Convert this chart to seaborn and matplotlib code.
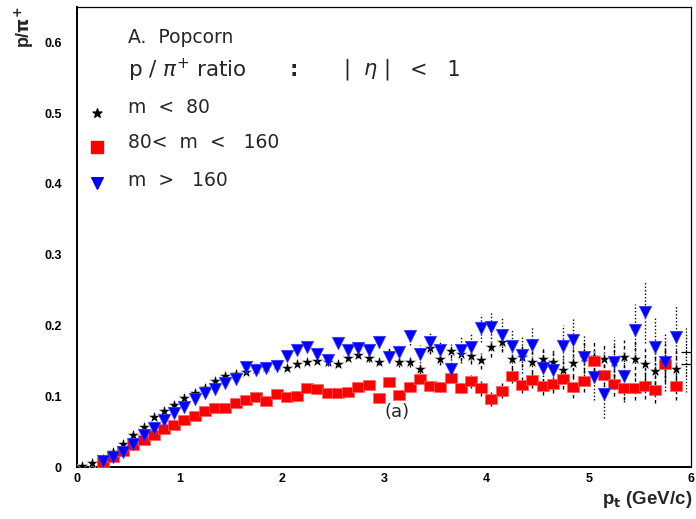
import numpy as np
import pandas as pd
import matplotlib
matplotlib.use("Agg")
import matplotlib.pyplot as plt
from matplotlib.ticker import MultipleLocator, FixedLocator, FixedFormatter
import seaborn as sns

# p/pi+ ratio vs pt, three multiplicity classes
pt_star = np.round(np.arange(0.05, 5.86, 0.1), 2)
ratio_star = [0.002, 0.006, 0.012, 0.021, 0.033, 0.045, 0.057, 0.070, 0.079, 0.088,
              0.098, 0.105, 0.112, 0.121, 0.129, 0.132, 0.134, 0.139, 0.142, 0.144,
              0.140, 0.145, 0.149, 0.150, 0.149, 0.145, 0.154, 0.158, 0.154, 0.149,
              0.161, 0.148, 0.149, 0.139, 0.168, 0.153, 0.164, 0.160, 0.157, 0.151,
              0.169, 0.177, 0.152, 0.156, 0.149, 0.153, 0.149, 0.137, 0.147, 0.156,
              0.156, 0.153, 0.149, 0.156, 0.153, 0.145, 0.135, 0.147, 0.138]
err_star = [0.001] * 20 + \
           [0.002, 0.002, 0.003, 0.003, 0.003, 0.004, 0.004, 0.004, 0.005, 0.005,
            0.006, 0.006, 0.007, 0.008, 0.008, 0.009, 0.010, 0.010, 0.011, 0.012,
            0.013, 0.014, 0.014, 0.015, 0.016, 0.017, 0.018, 0.019, 0.020, 0.020,
            0.021, 0.022, 0.023, 0.024, 0.025, 0.026, 0.027, 0.028, 0.030]

pt_sq = np.round(np.arange(0.25, 5.86, 0.1), 2)
ratio_sq = [0.007, 0.014, 0.022, 0.031, 0.038, 0.045, 0.053, 0.060, 0.066, 0.072,
            0.079, 0.084, 0.084, 0.091, 0.095, 0.099, 0.093, 0.103, 0.099, 0.100,
            0.112, 0.110, 0.105, 0.104, 0.106, 0.113, 0.116, 0.097, 0.120, 0.102,
            0.113, 0.124, 0.114, 0.113, 0.126, 0.112, 0.121, 0.111, 0.096, 0.108,
            0.129, 0.116, 0.123, 0.115, 0.117, 0.124, 0.113, 0.121, 0.150, 0.130,
            0.117, 0.112, 0.112, 0.115, 0.109, 0.145, 0.115]
err_sq = [0.001] * 18 + \
         [0.002, 0.002, 0.002, 0.003, 0.003, 0.003, 0.003, 0.004, 0.004, 0.004,
          0.005, 0.005, 0.006, 0.006, 0.007, 0.007, 0.008, 0.008, 0.009, 0.010,
          0.010, 0.011, 0.011, 0.012, 0.012, 0.013, 0.013, 0.014, 0.015, 0.015,
          0.016, 0.016, 0.017, 0.017, 0.018, 0.019, 0.019, 0.020, 0.021]

pt_tri = pt_sq
ratio_tri = [0.009, 0.014, 0.021, 0.033, 0.045, 0.055, 0.067, 0.077, 0.085, 0.096,
             0.105, 0.110, 0.119, 0.125, 0.142, 0.137, 0.140, 0.143, 0.157, 0.165,
             0.169, 0.160, 0.151, 0.175, 0.165, 0.168, 0.166, 0.176, 0.156, 0.163,
             0.185, 0.160, 0.176, 0.165, 0.138, 0.165, 0.170, 0.196, 0.198, 0.187,
             0.171, 0.158, 0.172, 0.140, 0.137, 0.171, 0.179, 0.156, 0.127, 0.103,
             0.149, 0.128, 0.193, 0.219, 0.170, 0.148, 0.184]
err_tri = [0.001] * 18 + \
          [0.003, 0.003, 0.004, 0.004, 0.005, 0.005, 0.006, 0.006, 0.007, 0.008,
           0.009, 0.010, 0.012, 0.013, 0.014, 0.015, 0.016, 0.018, 0.019, 0.020,
           0.022, 0.023, 0.024, 0.025, 0.026, 0.027, 0.028, 0.029, 0.030, 0.031,
           0.033, 0.034, 0.035, 0.036, 0.038, 0.044, 0.040, 0.041, 0.043]

# last bin: only error crosses visible
pt_last = [5.95, 5.95]
ratio_last = [0.163, 0.146]
err_last = [0.035, 0.04]

ytick_vals = [0, 0.1, 0.2, 0.3, 0.4, 0.5, 0.6]
ytick_labels = ["0", "0.1", "0.2", "0.3", "0.4", "0.5", "0.6"]
xtick_vals = [0, 1, 2, 3, 4, 5, 6]
xtick_labels = ["0", "1", "2", "3", "4", "5", "6"]

df_star = pd.DataFrame({"pt": pt_star, "ratio": ratio_star, "err": err_star})
df_sq = pd.DataFrame({"pt": pt_sq, "ratio": ratio_sq, "err": err_sq})
df_tri = pd.DataFrame({"pt": pt_tri, "ratio": ratio_tri, "err": err_tri})

sns.set_style("white")
plt.rcParams["font.family"] = ["DejaVu Sans"]

fig = plt.figure(figsize=(6.96, 5.19), dpi=100)
ax = fig.add_axes([77 / 696, 1 - 467 / 519, 614 / 696, 460 / 519])

def draw_err(d, ls, z):
    _, _, bars = ax.errorbar(d["pt"], d["ratio"], yerr=d["err"], fmt="none",
                             ecolor="black", elinewidth=1.0, zorder=z)
    bars[0].set_linestyle(ls)

draw_err(df_star, (0, (2.5, 2)), 2)
draw_err(df_sq, (0, (2.5, 2)), 2)
draw_err(df_tri, (0, (1, 1.5)), 2)

_, _, b = ax.errorbar(pt_last, ratio_last, yerr=err_last, xerr=0.05, fmt="none",
                      ecolor="black", elinewidth=0.9, zorder=2)
b[1].set_linestyle((0, (1, 1.5)))

# ROOT squares come out slightly wider than tall
rect = [(-1.25, -1.0), (1.25, -1.0), (1.25, 1.0), (-1.25, 1.0), (-1.25, -1.0)]

sns.scatterplot(data=df_star, x="pt", y="ratio", marker="*", s=80, color="black",
                edgecolor="white", linewidth=0.3, ax=ax, zorder=3, legend=False)
sns.scatterplot(data=df_sq, x="pt", y="ratio", marker=rect, s=75, color="#ff0000",
                edgecolor="#ff6060", linewidth=0.5, ax=ax, zorder=4, legend=False)
sns.scatterplot(data=df_tri, x="pt", y="ratio", marker="v", s=80, color="#0000ff",
                edgecolor="#4040ff", linewidth=0.5, ax=ax, zorder=5, legend=False)

ax.set_xlim(0, 6)
ax.set_ylim(0, 0.65)
ax.set_xlabel("")
ax.set_ylabel("")

ax.xaxis.set_major_locator(FixedLocator(xtick_vals))
ax.xaxis.set_major_formatter(FixedFormatter(xtick_labels))
ax.xaxis.set_minor_locator(MultipleLocator(0.1))
ax.yaxis.set_major_locator(FixedLocator(ytick_vals))
ax.yaxis.set_major_formatter(FixedFormatter(ytick_labels))
ax.yaxis.set_minor_locator(MultipleLocator(0.02))

ax.tick_params(axis="both", which="both", direction="in", colors="black",
               top=False, right=False)
ax.tick_params(axis="y", which="major", length=8.5, width=1.0, pad=11)
ax.tick_params(axis="y", which="minor", length=4.5, width=0.9)
ax.tick_params(axis="x", which="major", length=5.5, width=1.0, pad=4)
ax.tick_params(axis="x", which="minor", length=3, width=0.9)
for lab in ax.get_xticklabels() + ax.get_yticklabels():
    lab.set_fontfamily("Liberation Sans")
    lab.set_fontweight("bold")
    lab.set_fontsize(9)

for side in ["left", "bottom"]:
    ax.spines[side].set_linewidth(1.4)
for side in ["top", "right"]:
    ax.spines[side].set_linewidth(0.9)
for sp in ax.spines.values():
    sp.set_color("black")

# labels in ROOT style
fig.text(692 / 696, 1 - 504 / 519, r"p$_{\mathbf{t}}$ (GeV/c)", ha="right",
         va="baseline", fontsize=13.5, fontweight="bold", family="Liberation Sans")
fig.text(24 / 696, 1 - 6 / 519, r"p/$\mathbf{\pi^{+}}$", ha="center", va="top",
         rotation=90, fontsize=13, fontweight="bold", family="Liberation Sans")

# in-plot legend
tx = 0.5
ax.text(tx, 0.607, "A.  Popcorn", fontsize=13.5, va="center", ha="left")
ax.text(tx, 0.561, r"p / $\pi^{+}$ ratio", fontsize=15.5, va="center", ha="left")
ax.text(2.08, 0.561, ":", fontsize=15, va="center", ha="left", fontweight="bold")
ax.text(2.6, 0.561, r"|  $\eta$ |", fontsize=15, va="center", ha="left")
ax.text(3.25, 0.561, "<   1", fontsize=15, va="center", ha="left")
ax.text(tx, 0.508, "m  <  80", fontsize=13.5, va="center", ha="left")
ax.text(tx, 0.458, "80<  m  <   160", fontsize=13.5, va="center", ha="left")
ax.text(tx, 0.405, "m  >   160", fontsize=13.5, va="center", ha="left")

leg_x = [0.196]
ax.scatter(leg_x, [0.5], marker="*", s=45, color="black", zorder=6)
ax.scatter(leg_x, [0.452], marker="s", s=70, color="#ff0000", zorder=6)
ax.scatter(leg_x, [0.401], marker="v", s=70, color="#0000ff", zorder=6)

ax.text(3.13, 0.078, "(a)", fontsize=13, va="center", ha="center")

fig.savefig("out.png", dpi=100, facecolor="white")
